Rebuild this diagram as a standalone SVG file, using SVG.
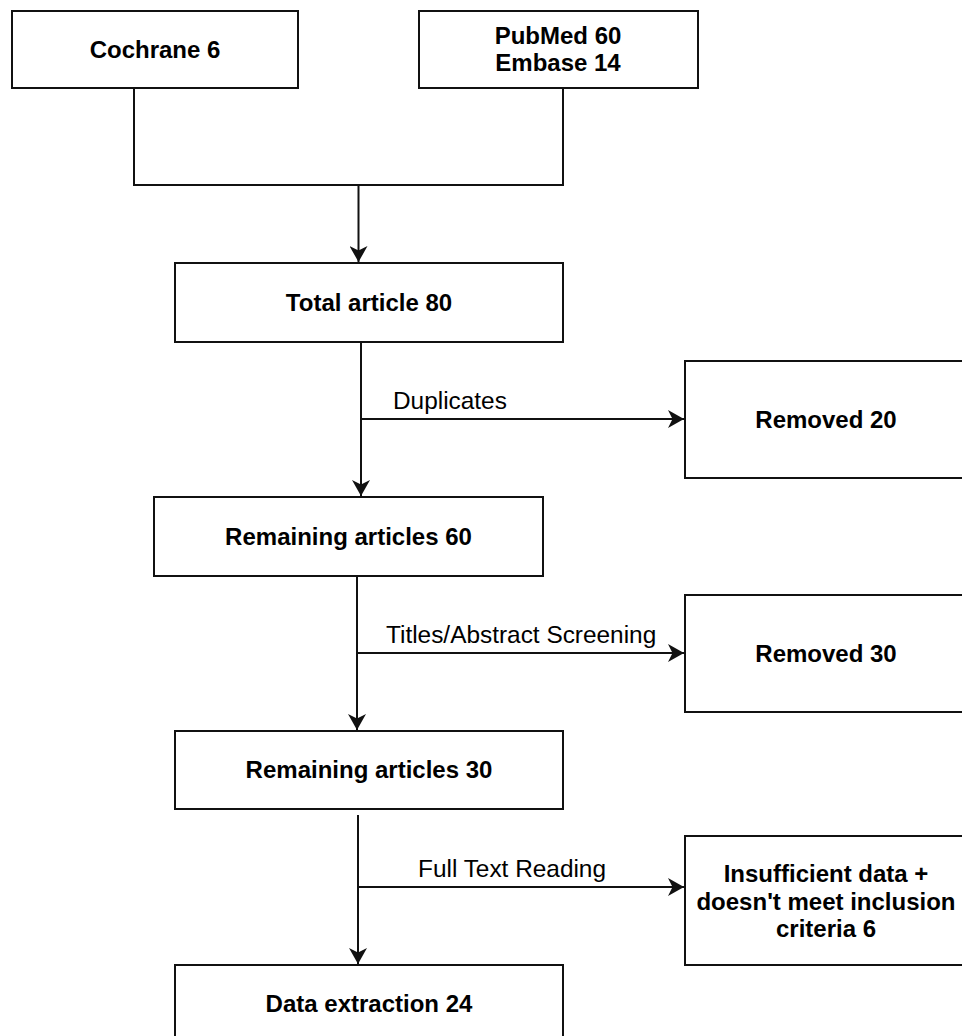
<svg xmlns="http://www.w3.org/2000/svg" width="962" height="1036" viewBox="0 0 962 1036">
<style>
.box{fill:#fff;stroke:#111;stroke-width:2}
.t{font-family:"Liberation Sans",Arial,sans-serif;font-weight:bold;font-size:24px;fill:#000;text-anchor:middle}
.lbl{font-family:"Liberation Sans",Arial,sans-serif;font-size:24.4px;fill:#000}
.c{fill:none;stroke:#111;stroke-width:2}
</style>
<defs>
<marker id="arr" markerUnits="userSpaceOnUse" markerWidth="18" markerHeight="18" refX="16" refY="9" orient="auto">
<path d="M0,0 L16,9 L0,18 L4.5,9 Z" fill="#111"/>
</marker>
</defs>
<rect width="962" height="1036" fill="#fff"/>
<g id="connectors">
<polyline class="c" points="134,88 134,185 563,185 563,88"/>
<line class="c" x1="358.5" y1="185" x2="358.5" y2="262" marker-end="url(#arr)"/>
<line class="c" x1="361" y1="342" x2="361" y2="496" marker-end="url(#arr)"/>
<line class="c" x1="360" y1="419" x2="684" y2="419" marker-end="url(#arr)"/>
<line class="c" x1="357" y1="576" x2="357" y2="730" marker-end="url(#arr)"/>
<line class="c" x1="358" y1="653" x2="684" y2="653" marker-end="url(#arr)"/>
<line class="c" x1="358" y1="815" x2="358" y2="964" marker-end="url(#arr)"/>
<line class="c" x1="358" y1="887" x2="684" y2="887" marker-end="url(#arr)"/>
<text class="lbl" x="393" y="409">Duplicates</text>
<text class="lbl" x="386" y="643">Titles/Abstract Screening</text>
<text class="lbl" x="418" y="877">Full Text Reading</text>
</g>
<g id="cochrane">
<rect class="box" x="12" y="11" width="286" height="77"/>
<text class="t" x="155" y="58">Cochrane 6</text>
</g>
<g id="pubmed">
<rect class="box" x="419" y="11" width="279" height="77"/>
<text class="t" x="558" y="44">PubMed 60</text>
<text class="t" x="558" y="71">Embase 14</text>
</g>
<g id="total">
<rect class="box" x="175" y="263" width="388" height="79"/>
<text class="t" x="369" y="311">Total article 80</text>
</g>
<g id="removed20">
<rect class="box" x="685" y="361" width="283" height="117"/>
<text class="t" x="826" y="428">Removed 20</text>
</g>
<g id="remaining60">
<rect class="box" x="154" y="497" width="389" height="79"/>
<text class="t" x="348.5" y="545">Remaining articles 60</text>
</g>
<g id="removed30">
<rect class="box" x="685" y="595" width="283" height="117"/>
<text class="t" x="826" y="662">Removed 30</text>
</g>
<g id="remaining30">
<rect class="box" x="175" y="731" width="388" height="78"/>
<text class="t" x="369" y="778">Remaining articles 30</text>
</g>
<g id="insufficient">
<rect class="box" x="685" y="836" width="283" height="129"/>
<text class="t" x="826" y="882">Insufficient data +</text>
<text class="t" x="826" y="909.5">doesn't meet inclusion</text>
<text class="t" x="826" y="937">criteria 6</text>
</g>
<g id="extraction">
<rect class="box" x="175" y="965" width="388" height="90"/>
<text class="t" x="369" y="1012">Data extraction 24</text>
</g>
</svg>
